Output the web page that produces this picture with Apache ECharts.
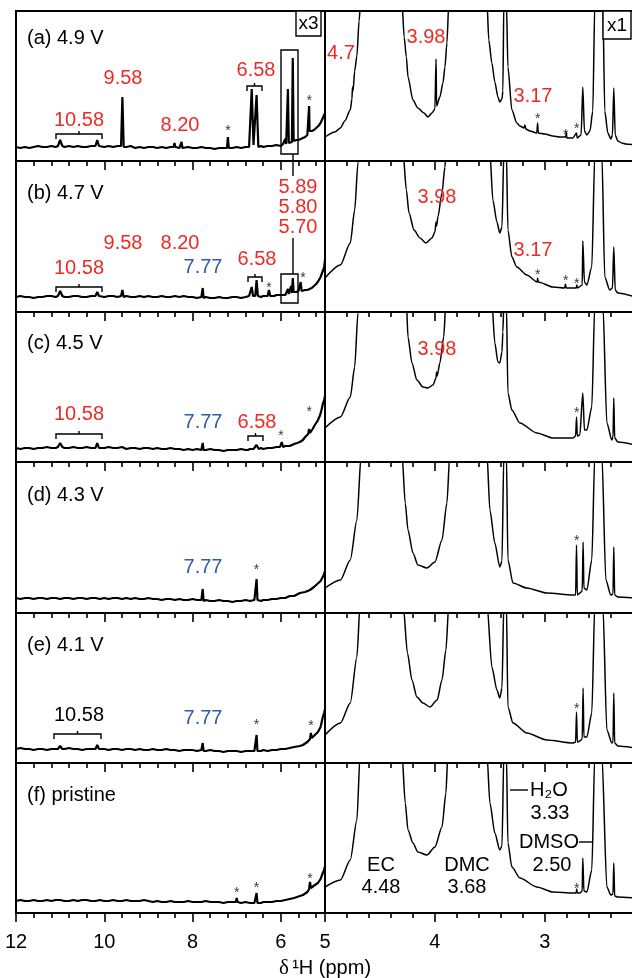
<!DOCTYPE html>
<html><head><meta charset="utf-8">
<script src="https://cdn.jsdelivr.net/npm/echarts@6/dist/echarts.min.js"></script>
<style>html,body{margin:0;padding:0;background:#fff}#c{width:632px;height:978px}</style>
</head><body><div id="c"></div>
<script>
const FONT = '"Liberation Sans", Arial, Helvetica, sans-serif';
const RED = '#ec2b25', BLUE = '#2c5ca8';

// ---- tick values / labels ----
const leftMajorTicks = [12, 10, 8, 6];
const leftMinorTicks = [11.6, 11.2, 10.8, 10.4, 9.6, 9.2, 8.8, 8.4, 7.6, 7.2, 6.8, 6.4, 5.6, 5.2];
const rightMajorTicks = [5, 4, 3];
const rightMinorTicks = [4.8, 4.6, 4.4, 4.2, 3.8, 3.6, 3.4, 3.2, 2.8, 2.6, 2.4, 2.2];
const leftTickLabels = [12, 10, 8, 6];
const rightTickLabels = [5, 4, 3];
const rowLabels = ['(a) 4.9 V', '(b) 4.7 V', '(c) 4.5 V', '(d) 4.3 V', '(e) 4.1 V', '(f) pristine'];

// ---- spectra, left (x3) panels: [ppm, intensity] ----
const aLeft = [[12.0,14],[11.9,13],[11.8,14],[11.7,13],[11.6,14],[11.5,15],[11.4,14],[11.3,14],[11.2,15],[11.1,14],[11.05,15],[11.0,21],[10.95,15],[10.9,14],[10.8,15],[10.7,14],[10.6,15],[10.5,14],[10.4,14],[10.3,15],[10.2,15],[10.16,21],[10.12,15],[10.0,14],[9.9,15],[9.8,14],[9.7,15],[9.62,15],[9.59,64],[9.56,14],[9.5,14],[9.4,15],[9.3,13],[9.2,14],[9.1,13],[9.0,14],[8.9,14],[8.8,13],[8.7,14],[8.6,13],[8.5,14],[8.43,14],[8.41,18],[8.39,14],[8.3,13],[8.27,14],[8.25,19],[8.23,13],[8.1,14],[8.0,13],[7.9,13],[7.8,14],[7.7,13],[7.6,13],[7.5,12],[7.4,13],[7.3,13],[7.22,13],[7.2,24],[7.18,13],[7.1,13],[7.0,14],[6.9,13],[6.8,14],[6.72,14],[6.69,15],[6.66,72],[6.62,16],[6.58,16],[6.55,66],[6.51,14],[6.45,15],[6.4,14],[6.3,15],[6.2,15],[6.1,16],[6.0,15],[5.95,17],[5.92,17],[5.9,22],[5.88,17],[5.86,18],[5.84,72],[5.82,18],[5.78,19],[5.75,19],[5.73,103],[5.71,20],[5.65,21],[5.6,21],[5.55,22],[5.5,23],[5.45,24],[5.4,26],[5.37,28],[5.36,55],[5.35,30],[5.3,30],[5.25,31],[5.2,33],[5.15,35],[5.1,38],[5.05,43],[5.02,45],[5.0,48]];
const bLeft = [[12.0,15],[11.9,16],[11.8,15],[11.7,15],[11.6,14],[11.5,15],[11.4,15],[11.3,16],[11.2,16],[11.1,15],[11.05,16],[11.0,21],[10.95,16],[10.9,15],[10.8,15],[10.7,16],[10.6,16],[10.5,15],[10.4,15],[10.3,16],[10.2,16],[10.16,20],[10.12,16],[10.0,15],[9.9,16],[9.8,16],[9.7,15],[9.62,16],[9.59,22],[9.56,15],[9.5,16],[9.4,15],[9.3,15],[9.2,16],[9.1,15],[9.0,16],[8.9,15],[8.8,15],[8.7,16],[8.6,15],[8.5,15],[8.4,16],[8.3,15],[8.2,16],[8.1,15],[8.0,15],[7.9,14],[7.8,15],[7.79,15],[7.77,24],[7.75,14],[7.7,15],[7.6,14],[7.5,14],[7.4,15],[7.3,14],[7.2,14],[7.1,15],[7.0,15],[6.9,14],[6.8,15],[6.72,16],[6.69,16],[6.66,25],[6.63,16],[6.58,16],[6.55,32],[6.52,16],[6.45,15],[6.4,16],[6.3,16],[6.27,22],[6.24,16],[6.15,16],[6.1,17],[6.0,17],[5.95,17],[5.9,17],[5.86,18],[5.84,23],[5.82,18],[5.79,19],[5.77,26],[5.75,19],[5.73,34],[5.71,20],[5.65,20],[5.6,21],[5.57,21],[5.55,30],[5.53,21],[5.45,22],[5.4,22],[5.35,23],[5.3,24],[5.25,26],[5.2,28],[5.15,31],[5.1,35],[5.05,41],[5.02,45],[5.0,52]];
const cLeft = [[12.0,14],[11.9,13],[11.8,14],[11.7,14],[11.6,13],[11.5,14],[11.4,14],[11.3,15],[11.2,14],[11.1,14],[11.05,15],[11.0,19],[10.95,15],[10.9,14],[10.8,14],[10.7,15],[10.6,14],[10.5,14],[10.4,15],[10.3,14],[10.2,14],[10.16,19],[10.12,14],[10.0,14],[9.9,15],[9.8,14],[9.7,14],[9.6,15],[9.5,13],[9.4,14],[9.3,14],[9.2,13],[9.1,14],[9.0,14],[8.9,13],[8.8,14],[8.7,13],[8.6,13],[8.5,14],[8.4,13],[8.3,13],[8.2,12],[8.1,13],[8.0,12],[7.9,13],[7.8,12],[7.79,12],[7.77,19],[7.75,12],[7.7,12],[7.6,13],[7.5,12],[7.4,12],[7.3,11],[7.2,12],[7.1,12],[7.0,12],[6.9,13],[6.8,12],[6.75,12],[6.7,13],[6.66,15],[6.62,13],[6.58,13],[6.55,17],[6.5,13],[6.45,14],[6.4,13],[6.3,14],[6.2,14],[6.1,15],[6.02,15],[5.98,20],[5.95,15],[5.9,16],[5.8,16],[5.75,17],[5.7,18],[5.63,19],[5.57,20],[5.5,22],[5.45,25],[5.38,28],[5.36,33],[5.34,29],[5.28,33],[5.23,37],[5.17,41],[5.11,47],[5.08,52],[5.05,58],[5.02,62],[5.0,66]];
const dLeft = [[12.0,15],[11.9,14],[11.8,15],[11.7,15],[11.6,14],[11.5,15],[11.4,15],[11.3,14],[11.2,15],[11.1,15],[11.0,14],[10.9,15],[10.8,15],[10.7,14],[10.6,15],[10.5,15],[10.4,14],[10.3,15],[10.2,15],[10.1,14],[10.0,15],[9.9,14],[9.8,15],[9.7,15],[9.6,14],[9.5,15],[9.4,14],[9.3,15],[9.2,14],[9.1,14],[9.0,15],[8.9,14],[8.8,14],[8.7,13],[8.6,14],[8.5,14],[8.4,13],[8.3,14],[8.2,13],[8.1,13],[8.0,14],[7.9,13],[7.8,13],[7.79,13],[7.77,24],[7.75,12],[7.7,13],[7.6,12],[7.5,12],[7.4,13],[7.3,12],[7.2,12],[7.1,11],[7.0,12],[6.9,12],[6.8,13],[6.7,12],[6.6,13],[6.57,13],[6.55,34],[6.53,13],[6.45,12],[6.4,13],[6.3,13],[6.2,14],[6.1,14],[6.0,15],[5.9,15],[5.8,17],[5.7,17],[5.57,20],[5.45,21],[5.34,23],[5.25,26],[5.15,30],[5.1,32],[5.05,36],[5.02,39],[5.0,42]];
const eLeft = [[12.0,14],[11.9,15],[11.8,14],[11.7,14],[11.6,13],[11.5,14],[11.4,14],[11.3,13],[11.2,14],[11.1,14],[11.05,14],[11.0,17],[10.95,14],[10.9,14],[10.8,15],[10.7,14],[10.6,14],[10.5,13],[10.4,14],[10.3,14],[10.2,14],[10.16,18],[10.12,14],[10.0,14],[9.9,13],[9.8,14],[9.7,14],[9.6,13],[9.5,14],[9.4,14],[9.3,13],[9.2,14],[9.1,13],[9.0,13],[8.9,14],[8.8,13],[8.7,13],[8.6,14],[8.5,13],[8.4,13],[8.3,12],[8.2,13],[8.1,13],[8.0,13],[7.9,12],[7.8,13],[7.79,13],[7.77,20],[7.75,12],[7.7,12],[7.6,13],[7.5,12],[7.4,12],[7.3,11],[7.2,12],[7.1,12],[7.0,12],[6.9,11],[6.8,12],[6.7,12],[6.6,12],[6.57,12],[6.55,28],[6.53,12],[6.45,12],[6.4,13],[6.3,12],[6.2,13],[6.1,13],[6.0,14],[5.9,14],[5.8,15],[5.7,16],[5.57,17],[5.5,18],[5.4,21],[5.34,24],[5.32,30],[5.3,25],[5.23,28],[5.16,31],[5.1,36],[5.05,46],[5.02,50],[5.0,54]];
const fLeft = [[12.0,12],[11.9,13],[11.8,12],[11.7,12],[11.6,13],[11.5,12],[11.4,12],[11.3,13],[11.2,12],[11.1,13],[11.0,13],[10.9,12],[10.8,12],[10.7,13],[10.6,12],[10.5,13],[10.4,13],[10.3,12],[10.2,12],[10.1,13],[10.0,12],[9.9,12],[9.8,13],[9.7,12],[9.6,12],[9.5,13],[9.4,12],[9.3,12],[9.2,12],[9.1,13],[9.0,12],[8.9,11],[8.8,12],[8.7,11],[8.6,11],[8.5,12],[8.4,11],[8.3,11],[8.2,11],[8.1,12],[8.0,11],[7.9,11],[7.8,11],[7.7,12],[7.6,11],[7.5,11],[7.4,11],[7.3,10],[7.2,11],[7.1,11],[7.02,11],[7.0,15],[6.98,11],[6.9,10],[6.8,11],[6.7,10],[6.6,10],[6.57,10],[6.55,20],[6.53,10],[6.45,10],[6.4,11],[6.3,11],[6.2,11],[6.1,12],[6.0,12],[5.9,13],[5.8,14],[5.7,15],[5.57,17],[5.5,18],[5.4,21],[5.36,24],[5.34,31],[5.32,25],[5.23,28],[5.16,30],[5.1,34],[5.05,40],[5.02,43],[5.0,47]];

// ---- spectra, right (x1) panels ----
const aRight = [[5.00,24],[4.91,29],[4.86,33],[4.82,40],[4.77,51],[4.755,62],[4.75,74],[4.745,70],[4.73,90],[4.71,105],[4.69,140],[4.675,160],[4.48,1000],[4.30,160],[4.28,124],[4.26,104],[4.245,84],[4.20,61],[4.155,53],[4.10,48],[4.064,44],[4.027,48],[4.00,52],[3.99,102],[3.985,55],[3.955,64],[3.927,78],[3.909,94],[3.891,118],[3.873,160],[3.69,1000],[3.527,160],[3.51,121],[3.482,98],[3.455,79],[3.427,64],[3.41,59],[3.39,62],[3.382,70],[3.373,160],[3.36,1000],[3.35,160],[3.336,94],[3.30,51],[3.255,38],[3.227,35],[3.19,33],[3.182,36],[3.173,32],[3.136,30],[3.073,28],[3.066,38],[3.06,28],[3.0,27],[2.927,25],[2.864,24],[2.81,24],[2.805,29],[2.80,23],[2.745,23],[2.712,28],[2.706,23],[2.67,26],[2.655,74],[2.64,30],[2.618,26],[2.59,30],[2.564,50],[2.545,160],[2.51,1000],[2.473,160],[2.455,50],[2.427,28],[2.40,22],[2.385,26],[2.373,73],[2.36,26],[2.336,20],[2.30,18],[2.264,17],[2.18,16]];
const bRight = [[5.00,34],[4.86,47],[4.77,69],[4.73,102],[4.70,149],[4.69,160],[4.48,1000],[4.29,160],[4.26,122],[4.236,99],[4.19,82],[4.136,74],[4.082,69],[4.027,74],[4.00,80],[3.99,90],[3.985,86],[3.973,95],[3.936,119],[3.909,145],[3.90,160],[3.69,1000],[3.50,160],[3.473,112],[3.436,90],[3.41,79],[3.39,85],[3.373,160],[3.36,1000],[3.35,160],[3.336,82],[3.30,55],[3.255,45],[3.164,37],[3.07,30],[3.066,34],[3.06,30],[2.927,25],[2.82,24],[2.813,28],[2.806,24],[2.715,24],[2.709,27],[2.703,24],[2.66,27],[2.655,71],[2.64,30],[2.618,27],[2.573,45],[2.545,160],[2.51,1000],[2.482,160],[2.455,35],[2.41,22],[2.385,24],[2.373,65],[2.36,22],[2.336,19],[2.18,15]];
const cRight = [[5.00,34],[4.86,45],[4.77,65],[4.73,95],[4.70,149],[4.69,160],[4.48,1000],[4.26,160],[4.245,125],[4.209,99],[4.164,82],[4.109,75],[4.064,74],[4.018,77],[3.99,84],[3.985,90],[3.98,86],[3.955,99],[3.92,125],[3.90,160],[3.69,1000],[3.482,160],[3.455,119],[3.427,100],[3.41,99],[3.39,110],[3.382,130],[3.373,160],[3.36,1000],[3.35,160],[3.336,69],[3.30,52],[3.227,39],[3.073,29],[2.927,24],[2.745,24],[2.72,26],[2.712,45],[2.705,26],[2.682,27],[2.655,69],[2.64,32],[2.618,32],[2.573,55],[2.545,160],[2.51,1000],[2.473,160],[2.436,39],[2.39,22],[2.38,25],[2.373,64],[2.365,24],[2.336,20],[2.18,17]];
const dRight = [[5.00,25],[4.86,33],[4.77,53],[4.71,93],[4.67,160],[4.48,1000],[4.30,160],[4.27,110],[4.245,83],[4.20,60],[4.155,48],[4.073,45],[4.00,51],[3.936,73],[3.891,110],[3.864,160],[3.69,1000],[3.527,160],[3.50,103],[3.455,70],[3.41,46],[3.39,52],[3.373,160],[3.36,1000],[3.35,160],[3.336,53],[3.29,30],[3.164,25],[2.982,20],[2.745,18],[2.72,18],[2.712,68],[2.705,18],[2.682,20],[2.66,22],[2.652,71],[2.645,25],[2.618,23],[2.573,53],[2.545,160],[2.51,1000],[2.482,160],[2.445,33],[2.40,18],[2.38,19],[2.373,66],[2.365,18],[2.336,16],[2.18,15]];
const eRight = [[5.00,28],[4.86,40],[4.77,60],[4.71,106],[4.68,160],[4.48,1000],[4.29,160],[4.25,110],[4.209,83],[4.164,66],[4.109,60],[4.045,56],[3.98,63],[3.936,83],[3.90,113],[3.873,160],[3.69,1000],[3.527,160],[3.482,96],[3.436,73],[3.41,65],[3.39,75],[3.373,160],[3.36,1000],[3.35,160],[3.336,56],[3.29,40],[3.164,30],[2.982,23],[2.745,20],[2.72,21],[2.712,51],[2.705,21],[2.682,22],[2.66,24],[2.652,75],[2.645,26],[2.618,26],[2.573,50],[2.545,160],[2.51,1000],[2.473,160],[2.436,33],[2.39,20],[2.38,21],[2.373,70],[2.365,20],[2.336,17],[2.18,15]];
const fRight = [[5.00,26],[4.86,33],[4.77,53],[4.71,93],[4.68,160],[4.48,1000],[4.30,160],[4.27,110],[4.245,83],[4.20,70],[4.155,61],[4.073,58],[4.00,66],[3.936,86],[3.90,120],[3.882,160],[3.69,1000],[3.527,160],[3.50,110],[3.455,80],[3.41,63],[3.39,67],[3.373,160],[3.36,1000],[3.35,160],[3.336,70],[3.30,46],[3.227,35],[3.073,26],[2.927,21],[2.745,20],[2.715,20],[2.71,24],[2.705,20],[2.682,20],[2.66,22],[2.655,55],[2.645,22],[2.618,21],[2.573,43],[2.545,160],[2.51,1000],[2.482,160],[2.436,26],[2.40,18],[2.38,19],[2.373,50],[2.365,17],[2.336,16],[2.18,15]];

// ---- impurity stars (*) [ppm, height] ----
const aStarsL = [[7.2,33],[5.36,63]];
const aStarsR = [[3.064,45],[2.81,29],[2.71,35]];
const bStarsL = [[6.27,27],[5.5,37]];
const bStarsR = [[3.064,40],[2.81,34],[2.71,31]];
const cStarsL = [[6.0,29],[5.36,53]];
const cStarsR = [[2.71,52]];
const dStarsL = [[6.55,46]];
const dStarsR = [[2.71,75]];
const eStarsL = [[6.55,41],[5.32,40]];
const eStarsR = [[2.71,57]];
const fStarsL = [[7.0,23],[6.55,28],[5.34,37]];
const fStarsR = [[2.71,27]];

const leftSpectra = [aLeft, bLeft, cLeft, dLeft, eLeft, fLeft];
const rightSpectra = [aRight, bRight, cRight, dRight, eRight, fRight];
const leftStars = [aStarsL, bStarsL, cStarsL, dStarsL, eStarsL, fStarsL];
const rightStars = [aStarsR, bStarsR, cStarsR, dStarsR, eStarsR, fStarsR];

// ---- layout ----
const rowTops = [11, 161, 312, 462, 613, 763, 913];
const L = {left: 16, width: 309}, R = {left: 325, width: 310};

const grids = [], xAxes = [], yAxes = [], series = [];
for (let r = 0; r < 6; r++) {
  const top = rowTops[r], h = rowTops[r + 1] - rowTops[r];
  const bottom = r === 5;
  [L, R].forEach((g, side) => {
    const gi = grids.length;
    grids.push({left: g.left, top: top, width: g.width, height: h, show: true, containLabel: false,
      outerBoundsMode: 'none',
      borderColor: '#000', borderWidth: 2, backgroundColor: 'transparent'});
    const isL = side === 0;
    const base = {type: 'value', gridIndex: gi, position: 'bottom', inverse: true,
      min: isL ? 5 : 2.18, max: isL ? 12 : 5,
      axisLine: {show: false, onZero: false}, splitLine: {show: false}};
    const majIdx = xAxes.length;
    xAxes.push(Object.assign({}, base, {
      axisTick: {show: true, inside: false, length: 9, customValues: isL ? leftMajorTicks : rightMajorTicks,
        lineStyle: {color: '#000', width: 1.6}},
      axisLabel: {show: bottom, customValues: isL ? leftTickLabels : rightTickLabels, margin: 19,
        color: '#000', fontSize: 20, fontFamily: FONT, showMinLabel: true, showMaxLabel: true}
    }));
    xAxes.push(Object.assign({}, base, {
      axisTick: {show: true, inside: false, length: 5, customValues: isL ? leftMinorTicks : rightMinorTicks,
        lineStyle: {color: '#000', width: 1.6}},
      axisLabel: {show: false}
    }));
    yAxes.push({type: 'value', gridIndex: gi, min: 0, max: h, show: false});
    series.push({type: 'line', xAxisIndex: majIdx, yAxisIndex: gi, clip: true, showSymbol: false,
      symbol: 'none', animation: false, data: isL ? leftSpectra[r] : rightSpectra[r],
      smooth: isL ? false : 0.25, smoothMonotone: 'x',
      lineStyle: {color: '#000', width: isL ? 2.2 : 1.5}});
    series.push({type: 'scatter', xAxisIndex: majIdx, yAxisIndex: gi, animation: false,
      symbolSize: 1, itemStyle: {color: 'rgba(0,0,0,0)'}, silent: true,
      data: isL ? leftStars[r] : rightStars[r],
      label: {show: true, formatter: '*', position: 'inside', color: '#000', fontSize: 14,
        fontFamily: FONT, offset: [0, 3]}});
  });
}

// ---- annotations ----
const graphic = [];
function T(text, x, y, color, align, size) {
  graphic.push({type: 'text', x: x, y: y, z: 10, silent: true, style: {text: text, fill: color || '#000',
    font: (size || 20) + 'px ' + FONT, textAlign: align || 'center', textVerticalAlign: 'middle',
    align: align || 'center', verticalAlign: 'middle'}});
}
function P(points, w) {
  graphic.push({type: 'polyline', z: 10, silent: true, shape: {points: points},
    style: {stroke: '#000', lineWidth: w || 1.4, fill: null}});
}
function Rect(x, y, w, h, fill) {
  graphic.push({type: 'rect', z: 9, silent: true, shape: {x: x, y: y, width: w, height: h},
    style: {stroke: '#000', lineWidth: 1.4, fill: fill || 'none'}});
}
function bracket(x1, x2, y) {
  const xc = (x1 + x2) / 2;
  P([[x1, y + 5], [x1, y], [x2, y], [x2, y + 5]]);
  P([[xc, y], [xc, y - 3]]);
}
const rowLabelY = [38, 193, 343, 495, 645, 795];
rowLabels.forEach((s, i) => T(s, 27, rowLabelY[i], '#000', 'left'));

// (a)
T('10.58', 79, 120, RED); bracket(56, 102, 134);
T('9.58', 123, 78, RED); T('8.20', 180, 125, RED);
T('6.58', 256, 70, RED); bracket(247, 262, 86);
Rect(281, 50, 17, 104);
P([[293, 154], [293, 176]]);
Rect(296, 11, 25, 25, '#fff'); T('x3', 308.5, 24, '#000', 'center', 19);
T('4.7', 341, 53, RED); T('3.98', 426, 37, RED); T('3.17', 533, 96, RED);
Rect(603, 11, 28, 28, '#fff'); T('x1', 617, 26, '#000', 'center', 19);
// (b)
T('5.89', 298, 187, RED); T('5.80', 298, 207, RED); T('5.70', 298, 227, RED);
P([[293, 238], [293, 274]]); Rect(281, 274, 17, 29);
T('9.58', 123, 243, RED); T('8.20', 180, 243, RED);
T('10.58', 79, 268, RED); bracket(56, 102, 287);
T('7.77', 203, 267, BLUE);
T('6.58', 257, 259, RED); bracket(248, 262, 277);
T('3.98', 437, 197, RED); T('3.17', 533, 250, RED);
// (c)
T('10.58', 79, 414, RED); bracket(56, 102, 434);
T('7.77', 203, 422, BLUE);
T('6.58', 257, 422, RED); bracket(248, 263, 436);
T('3.98', 437, 349, RED);
// (d)
T('7.77', 203, 567, BLUE);
// (e)
T('10.58', 79, 715, '#000'); bracket(54, 101, 734);
T('7.77', 203, 718, BLUE);
// (f)
T('EC', 381, 865); T('4.48', 381, 887);
T('DMC', 467, 865); T('3.68', 467, 887);
T('H\u2082O', 549, 790); P([[510, 790], [528, 790]]);
T('3.33', 550, 813);
T('DMSO', 549, 842); P([[579, 842], [593, 842]]);
T('2.50', 552, 865);
// axis title
graphic.push({type: 'text', x: 325, y: 968, z: 10, silent: true, style: {
  text: '{d|\u03b4} {s|\u00b9H (ppm)}', textAlign: 'center', textVerticalAlign: 'middle',
  align: 'center', verticalAlign: 'middle', fill: '#000',
  rich: {d: {fontFamily: '"Liberation Serif", "Times New Roman", serif', fontSize: 21, fill: '#000'},
         s: {fontFamily: FONT, fontSize: 20, fill: '#000'}}}});

const chart = echarts.init(document.getElementById('c'), null, {renderer: 'canvas'});
chart.setOption({animation: false, backgroundColor: '#fff', grid: grids, xAxis: xAxes, yAxis: yAxes,
  series: series, graphic: graphic});
</script></body></html>
